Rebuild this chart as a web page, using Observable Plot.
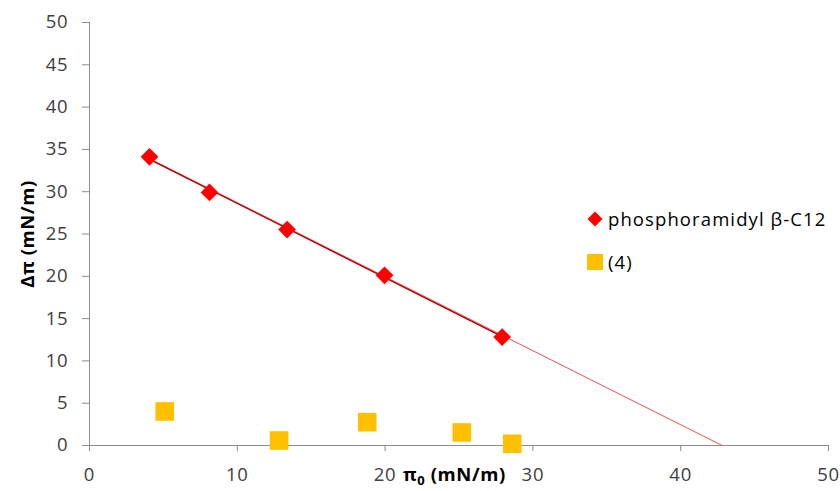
<!DOCTYPE html>
<html><head><meta charset="utf-8">
<script src="https://cdn.jsdelivr.net/npm/d3@7"></script>
<script src="https://cdn.jsdelivr.net/npm/@observablehq/plot@0.6"></script>
<style>
body{margin:0;background:#fff;}
#wrap{position:relative;width:840px;height:491px;overflow:hidden;font-family:"Open Sans",Lato,sans-serif;background:#fff;}
#wrap svg{display:block;}
.ytitle{position:absolute;left:26px;top:234px;transform:translate(-50%,-50%) rotate(-90deg);font-weight:bold;font-size:18.5px;letter-spacing:0.6px;color:#000;white-space:nowrap;}
.xtitle{position:absolute;left:403px;top:462px;font-weight:bold;font-size:18.5px;letter-spacing:0.6px;color:#000;white-space:nowrap;line-height:24px;}
.xtitle sub{font-size:13px;vertical-align:-4px;}
.legend{position:absolute;left:585px;top:197px;font-size:18.5px;letter-spacing:1.1px;color:#000;}
.legend .item{display:flex;align-items:center;height:43px;}
.legend .item svg{margin-right:3px;}
</style></head><body><div id="wrap"></div>
<script>
const seriesNames = ["phosphoramidyl β-C12", "(4)"];
const seriesColors = ["#ff0000", "#ffc000"];
const phosX = [4.06, 8.12, 13.37, 19.96, 27.92];
const phosY = [34.12, 29.91, 25.52, 20.12, 12.82];
const cmpdX = [5.09, 12.83, 18.79, 25.19, 28.6];
const cmpdY = [4.02, 0.59, 2.76, 1.54, 0.2];
const trendX = [4.06, 42.8];
const trendY = [33.9, 0];
const xTicks = [0, 10, 20, 30, 40, 50];
const yTicks = [0, 5, 10, 15, 20, 25, 30, 35, 40, 45, 50];

const phos = phosX.map((x, i) => ({x, y: phosY[i]}));
const cmpd = cmpdX.map((x, i) => ({x, y: cmpdY[i]}));
const trend = trendX.map((x, i) => ({x, y: trendY[i]}));

const axisColor = "#8c8c8c";
const chart = Plot.plot({
  width: 840, height: 491,
  marginLeft: 89, marginRight: 12, marginTop: 22, marginBottom: 46,
  x: {domain: [0, 50]},
  y: {domain: [0, 50]},
  style: {fontFamily: "'Open Sans', Lato, sans-serif", fontSize: "18.5px", background: "white", color: "#404040", letterSpacing: "0.8px"},
  marks: [
    Plot.ruleX([0], {stroke: axisColor}),
    Plot.ruleY([0], {stroke: axisColor}),
    Plot.axisY({ticks: yTicks, tickSize: 7, tickPadding: 14, stroke: axisColor, fill: "#404040", label: null}),
    Plot.axisX({ticks: xTicks, tickSize: 6, tickPadding: 16, stroke: axisColor, fill: "#404040", label: null}),
    Plot.line(trend, {x: "x", y: "y", stroke: "#ff4d4d", strokeWidth: 1}),
    Plot.linearRegressionY(phos, {x: "x", y: "y", stroke: "#b00000", strokeWidth: 1.4, ci: 0}),
    Plot.dot(phos, {x: "x", y: "y", symbol: "diamond2", fill: seriesColors[0], stroke: null, r: 8}),
    Plot.dot(cmpd, {x: "x", y: "y", symbol: "square", fill: seriesColors[1], stroke: null, r: 10.5})
  ]
});
const wrap = document.getElementById("wrap");
wrap.appendChild(chart);

const yt = document.createElement("div");
yt.className = "ytitle"; yt.textContent = "Δπ (mN/m)";
wrap.appendChild(yt);
const xt = document.createElement("div");
xt.className = "xtitle"; xt.innerHTML = "π<sub>0</sub> (mN/m)";
wrap.appendChild(xt);

const lg = document.createElement("div");
lg.className = "legend";
const symbols = [
  `<svg width="20" height="20" viewBox="-10 -10 20 20"><path d="M0,-7.5L7.5,0L0,7.5L-7.5,0Z" fill="${seriesColors[0]}"/></svg>`,
  `<svg width="20" height="20" viewBox="-10 -10 20 20"><rect x="-8" y="-8" width="16" height="16" fill="${seriesColors[1]}"/></svg>`
];
seriesNames.forEach((n, i) => {
  const it = document.createElement("div");
  it.className = "item";
  it.innerHTML = symbols[i] + `<span>${n}</span>`;
  lg.appendChild(it);
});
wrap.appendChild(lg);
</script></body></html>
